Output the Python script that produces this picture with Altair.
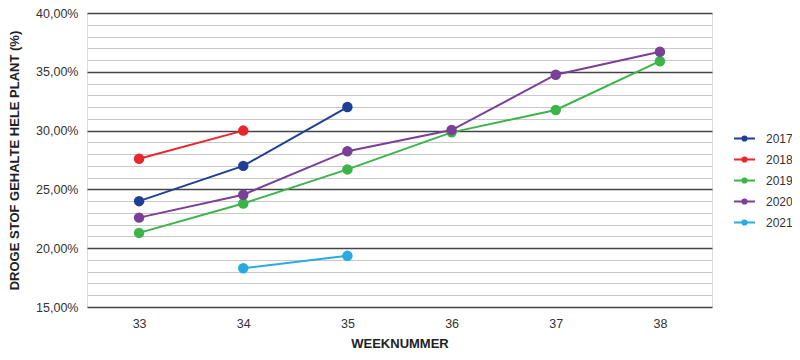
import altair as alt
import pandas as pd

weeks = [33, 34, 35, 36, 37, 38]
years = ["2017", "2018", "2019", "2020", "2021"]
colors = ["#1f3e96", "#e8262b", "#3bb44a", "#7a3f97", "#29abe2"]

s2017 = [24.0, 27.0, 32.0, None, None, None]
s2018 = [27.6, 30.0, None, None, None, None]
s2019 = [21.3, 23.8, 26.7, 29.85, 31.75, 35.9]
s2020 = [22.6, 24.55, 28.25, 30.05, 34.75, 36.7]
s2021 = [None, 18.3, 19.35, None, None, None]

series = {"2017": s2017, "2018": s2018, "2019": s2019, "2020": s2020, "2021": s2021}
rows = []
for y, vals in series.items():
    for w, v in zip(weeks, vals):
        if v is not None:
            rows.append({"week": w, "year": y, "value": v})
df = pd.DataFrame(rows)

grid_values = list(range(15, 41))

color = alt.Color(
    "year:N",
    scale=alt.Scale(domain=years, range=colors),
    legend=alt.Legend(
        title=None,
        orient="none",
        legendX=646,
        legendY=114,
        symbolType="M-1,0L1,0M-0.2,0A0.2,0.2,0,1,1,0.2,0A0.2,0.2,0,1,1,-0.2,0Z",
        symbolSize=440,
        symbolStrokeWidth=2,
        labelFontSize=12,
        labelFont="Liberation Sans",
        labelColor="#333333",
        rowPadding=3,
        labelOffset=10,
    ),
)

x = alt.X(
    "week:Q",
    scale=alt.Scale(domain=[32.5, 38.5], nice=False, zero=False),
    axis=alt.Axis(
        values=weeks,
        title="WEEKNUMMER",
        titleFont="Liberation Sans",
        titleFontSize=13,
        titleFontWeight="bold",
        titleColor="#222222",
        titlePadding=8,
        labelFont="Liberation Sans",
        labelFontSize=12.5,
        labelColor="#333333",
        labelPadding=10,
        domain=False,
        ticks=False,
        grid=False,
        format="d",
    ),
)

y = alt.Y(
    "value:Q",
    scale=alt.Scale(domain=[15, 40], nice=False, zero=False),
    axis=alt.Axis(
        values=grid_values,
        title="DROGE STOF GEHALTE HELE PLANT (%)",
        titleFont="Liberation Sans",
        titleFontSize=13,
        titleFontWeight="bold",
        titleColor="#222222",
        titlePadding=14,
        labelFont="Liberation Sans",
        labelFontSize=12.5,
        labelColor="#333333",
        labelPadding=9,
        labelExpr="datum.value % 5 === 0 ? replace(format(datum.value, '.2f'), '.', ',') + '%' : ''",
        domain=False,
        ticks=False,
        grid=True,
        gridColor=alt.condition("datum.value % 5 === 0", alt.value("#444444"), alt.value("#c8c8c8")),
        gridWidth=alt.condition("datum.value % 5 === 0", alt.value(1.3), alt.value(1.2)),
    ),
)

base = alt.Chart(df).encode(x=x, y=y, color=color, detail="year:N")
lines = base.mark_line(strokeWidth=2)
points = base.mark_circle(size=110, opacity=1)

chart = (
    alt.layer(lines, points)
    .properties(
        width=625,
        height=294,
        padding={"left": 79, "top": 5, "right": 80, "bottom": 45},
        autosize=alt.AutoSizeParams(type="none"),
    )
    .configure_view(stroke=None)
    .configure(background="white")
)

chart.save("out.html", embed_options={"renderer": "svg", "actions": False})
